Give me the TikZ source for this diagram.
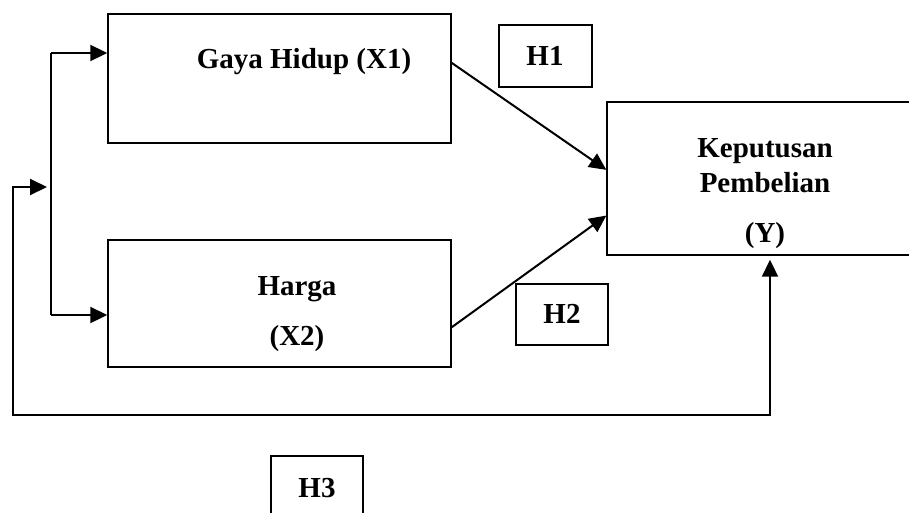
\documentclass[tikz,border=0pt]{standalone}
\usepackage{fontspec}
\setmainfont{Liberation Serif}
\usetikzlibrary{calc,arrows.meta}
\tikzset{
	varbox/.style={draw, line width=1.4pt, rectangle, inner sep=0pt},
	lbl/.style={anchor=base, inner sep=0pt, font=\fontsize{29}{35}\selectfont\bfseries},
	arr/.style={line width=2pt, -{Triangle[length=17pt,width=16pt]}}
}

\begin{document}
\begin{tikzpicture}[x=1pt, y=-1pt]
			%%%%% START %%%%%
			
			\clip (0, 0) rectangle (909, 512);
			
			\node[varbox, minimum width=343pt, minimum height=129pt] (x1) at (279.5, 78.5) {};
			\node[lbl] (x1txt) at (304, 68) {Gaya Hidup (X1)};
			
			\node[varbox, minimum width=343pt, minimum height=127pt] (x2) at (279.5, 303.5) {};
			\node[lbl] (x2txt) at (297, 295) {Harga};
			\node[lbl] (x2var) at (297, 345) {(X2)};
			
			\node[varbox, minimum width=343pt, minimum height=153pt] (y) at (778.5, 178.5) {};
			\node[lbl] (ytxt) at (765, 157) {Keputusan};
			\node[lbl] (ytxtb) at (765, 192) {Pembelian};
			\node[lbl] (yvar) at (765, 242) {(Y)};
			
			\node[varbox, minimum width=93pt, minimum height=62pt] (h1) at (545.5, 56) {};
			\node[lbl] (h1txt) at (545, 65) {H1};
			\node[varbox, minimum width=92pt, minimum height=61pt] (h2) at (562, 314.5) {};
			\node[lbl] (h2txt) at (562, 323) {H2};
			\node[varbox, minimum width=92pt, minimum height=62pt] (h3) at (317, 487) {};
			\node[lbl] (h3txt) at (317, 497) {H3};
			
			% cabang ke X1 dan X2
			\coordinate (bustop) at (51, 53);
			\coordinate (busbot) at (51, 315);
			\draw[line width=2pt] (bustop) -- (busbot);
			\draw[arr] (bustop) -- (bustop -| x1.west);
			\draw[arr] (busbot) -- (busbot -| x2.west);
			
			% jalur H3
			\coordinate (fbin) at (47, 187);
			\coordinate (fbleft) at (13, 187);
			\coordinate (fbbot) at (770, 415);
			\draw[arr, {Triangle[length=17pt,width=16pt]}-{Triangle[length=17pt,width=16pt]}, shorten >=4pt] (fbin) -- (fbleft) |- (fbbot) -- (fbbot |- y.south);
			
			% H1 dan H2
			\draw[arr] ($(x1.north east)!0.38!(x1.south east)$) -- ($(y.north west)!0.444!(y.south west)$);
			\draw[arr] ($(x2.north east)!0.685!(x2.south east)$) -- ($(y.north west)!0.74!(y.south west)$);
			
			%%%%% END %%%%%
		\end{tikzpicture}
\end{document}
